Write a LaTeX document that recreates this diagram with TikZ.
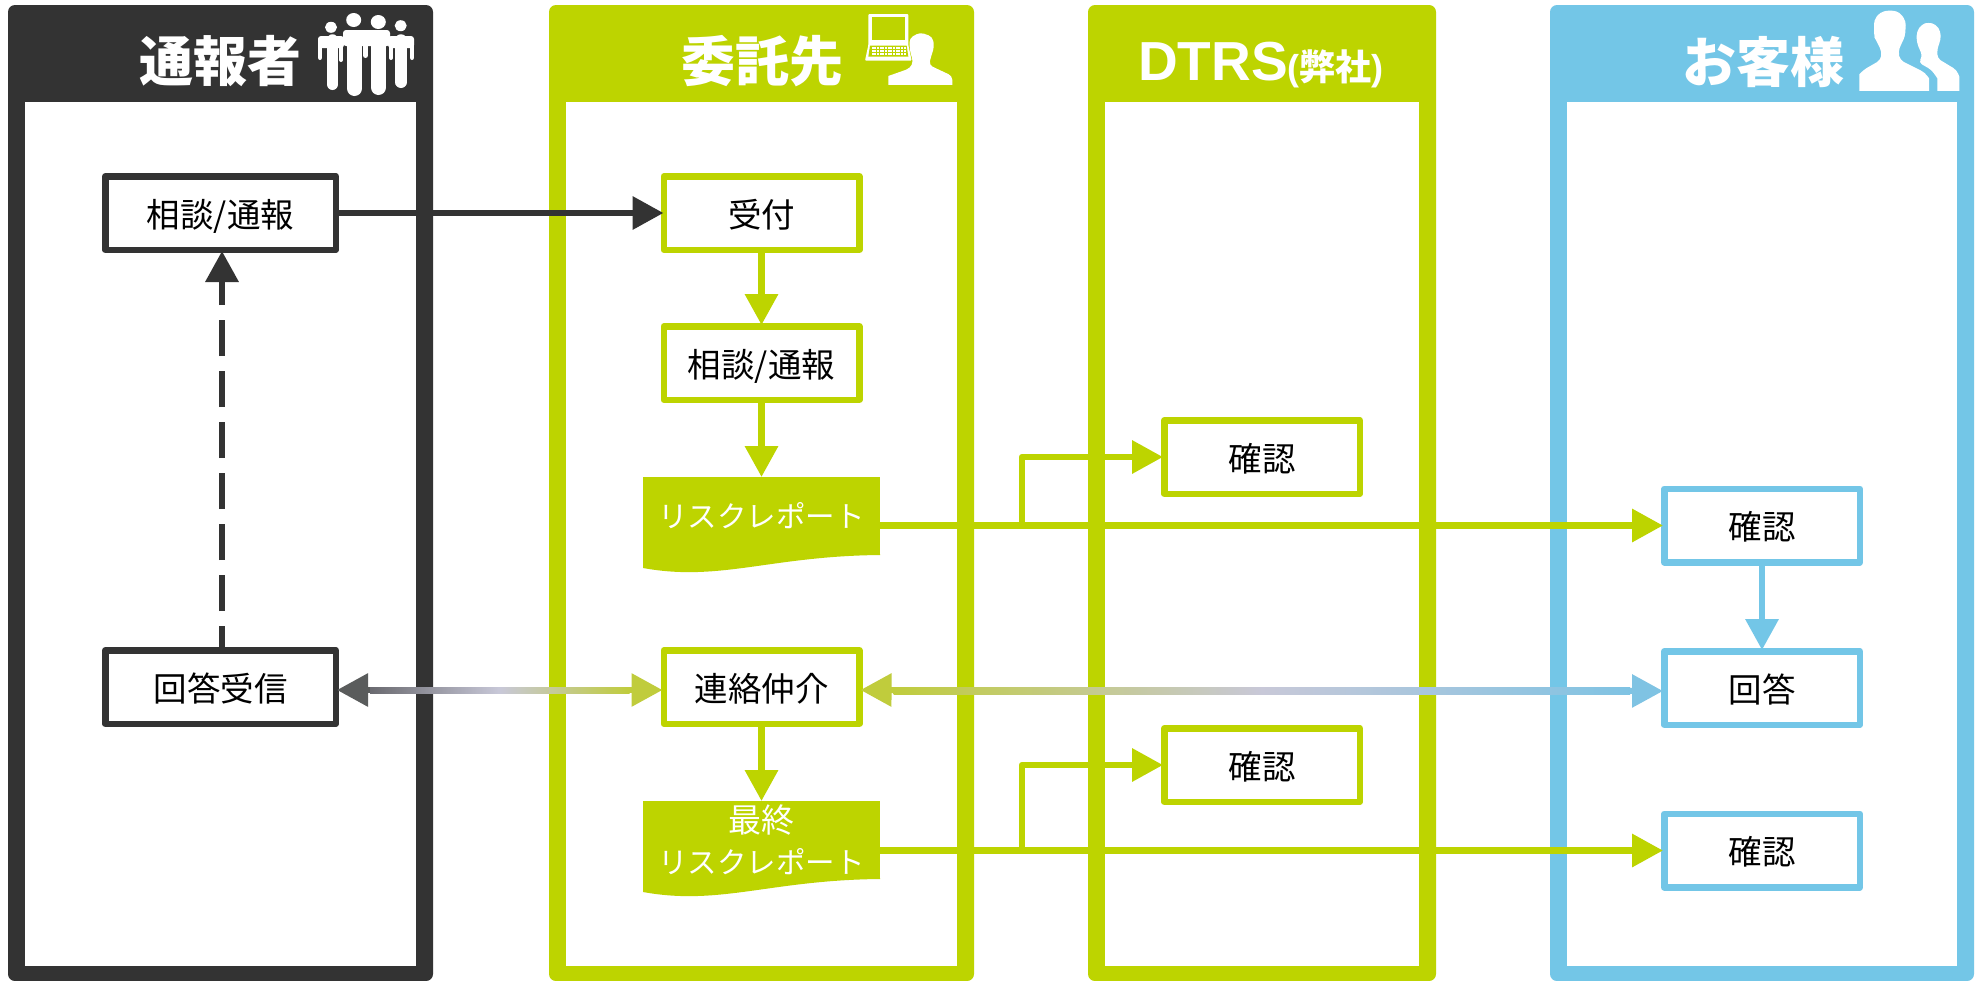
\documentclass[tikz,border=0pt]{standalone}
\usepackage{fontspec}
\setmainfont{Noto Sans CJK JP}
\newfontfamily\latinfont{Liberation Sans}
\usepackage{tikz}
\usetikzlibrary{arrows.meta}
\usetikzlibrary{calc}
\usetikzlibrary{positioning}

\definecolor{inkblack}{HTML}{333333}
\definecolor{leafgreen}{HTML}{BDD400}
\definecolor{skyblue}{HTML}{73C6E7}
\definecolor{fadeink}{HTML}{6A6A70}
\definecolor{fadetip}{HTML}{5A5C5C}
\definecolor{fadelilac}{HTML}{C8C8D8}
\definecolor{fadeolive}{HTML}{C0CC3C}
\definecolor{fadesky}{HTML}{7FC3E3}

\tikzset{
    flowbox/.style={draw=#1,fill=white,line width=6.5pt,line join=round,minimum width=195.5pt,minimum height=73.5pt,text height=30.5pt,text depth=2.5pt,font=\fontsize{33.5}{40}\selectfont},
    reportbox/.style={fill=leafgreen,text=white,minimum width=237pt,minimum height=78pt,inner sep=0pt,outer sep=0pt,align=center,font=\fontsize{29.5}{41}\selectfont},
    lanehead/.style={text=white,inner sep=0pt,font=\fontsize{54}{60}\selectfont\bfseries},
    flowline/.style={draw=#1,line width=6.5pt,line join=round,shorten >=-2pt,-{Triangle[length=31pt,width=32pt]}},
}

\newcommand{\docwave}[1]{\fill[leafgreen] ($(#1.south west)+(0,-1)$) -- ++(0,14) .. controls +(77,14) and +(-110,1) .. (#1.south east) -- ++(0,-1) -- cycle;}

\begin{document}
\begin{tikzpicture}[x=1pt,y=-1pt]
    \useasboundingbox (0,0) rectangle (1980,980);
    \fill[white] (0,0) rectangle (1980,980);

    \foreach \xa/\xb/\xc/\xd/\lanecol in {8/433/25/416/inkblack,549/974/566/957/leafgreen,1088/1436/1105/1419/leafgreen,1550/1974/1567/1957/skyblue}{
        \fill[\lanecol,rounded corners=7pt] (\xa,5) rectangle (\xb,981);
        \fill[white] (\xc,102) rectangle (\xd,966);
    }

    \node [lanehead] (reporterhead) at (220.5,61){通報者};
    \node [lanehead] (contractorhead) at (762,61){委託先};
    \node [lanehead] (dtrshead) at (1261,65){{\latinfont\fontsize{55}{60}\selectfont DTRS}{\fontsize{36}{40}\selectfont{\latinfont(}弊社{\latinfont)}}};
    \node [lanehead] (customerhead) at (1763,62){お客様};

    \begin{scope}[white]
        \foreach \xc/\yc/\rx/\ry in {331/27.3/6/5.5,353.7/20/7.5/7,378.3/22/7.5/7,400.7/25.7/6/5.5}{
            \fill (\xc,\yc) ellipse [x radius=\rx pt,y radius=\ry pt];
        }
        \fill[rounded corners=3pt] (318,36) rectangle (344,48);
        \fill[rounded corners=3pt] (343,30) rectangle (390,46);
        \fill[rounded corners=3pt] (388,36) rectangle (414,48);
        \foreach \xc/\wd/\yend in {320/4.5/60,332.5/11.5/90,341/4/62,354.5/15/96,365.5/5/58,378.5/15/95,391/4/60,401/11.5/88,412/4.5/60}{
            \draw[line width=\wd pt,line cap=round] (\xc,40) -- (\xc,\yend-\wd/2);
        }
    \end{scope}

    \begin{scope}[shift={(855,5)},x=0.3333pt,y=-0.3333pt]
        \fill[white,rounded corners=1pt] (40,27) -- (160,27) -- (160,120) -- (170,167) -- (30,167) -- (40,120) -- cycle;
        \fill[leafgreen] (50,37) rectangle (150,105);
        \fill[leafgreen] (45,122) -- (155,122) -- (160,155) -- (40,155) -- cycle;
        \foreach \row in {0,1,2}{
            \foreach \key in {0,...,12}{
                \fill[white] (50+\key*8,125+\row*9) rectangle +(6,6);
            }
        }
        \fill[white] (100,240) -- (100,213) [rounded corners=4pt] -- (165,190) -- (175,170) -- (165,140) -- (163,100) -- (195,82) -- (232,95) -- (238,125) -- (228,155) -- (222,180) -- (292,213) [sharp corners] -- (292,240) -- cycle;
    \end{scope}

    \begin{scope}[shift={(1850,5)},x=0.3333pt,y=-0.3333pt]
        \fill[white] (28,258) -- (28,208) [rounded corners=4pt] -- (40,195) -- (92,165) -- (95,140) -- (78,105) -- (72,95) -- (72,45) -- (90,22) -- (120,15) -- (150,22) -- (168,50) -- (165,95) -- (150,125) -- (145,140) -- (150,165) -- (225,203) [sharp corners] -- (237,220) -- (237,258) -- cycle;
        \fill[white] (262,258) -- (262,220) [rounded corners=4pt] -- (245,195) -- (205,172) -- (218,155) -- (200,112) -- (200,80) -- (215,58) -- (235,52) -- (258,58) -- (272,80) -- (272,105) -- (262,130) -- (262,160) -- (320,195) [sharp corners] -- (328,215) -- (328,258) -- cycle;
    \end{scope}

    \node [flowbox=inkblack,minimum width=230.5pt] (report) at (220.5,213){相談/通報};
    \node [flowbox=inkblack,minimum width=230.5pt] (reply) at (220.5,687){回答受信};

    \node [flowbox=leafgreen] (reception) at (761.5,213){受付};
    \node [flowbox=leafgreen,below=70pt of reception] (consult){相談/通報};
    \node [reportbox,below=74pt of consult] (draft){リスクレポート};
    \node [flowbox=leafgreen,below=92pt of draft] (relay){連絡仲介};
    \node [reportbox,below=74pt of relay] (final){{\fontsize{33}{41}\selectfont 最終}\\リスクレポート};
    \docwave{draft}
    \docwave{final}

    \node [flowbox=leafgreen] (dtrscheck) at (1262,457){確認};
    \node [flowbox=leafgreen,below=228pt of dtrscheck] (dtrsfinal){確認};

    \node [flowbox=skyblue] (custcheck) at (1762,525.5){確認};
    \node [flowbox=skyblue,below=82.5pt of custcheck] (answer){回答};
    \node [flowbox=skyblue,below=82.5pt of answer] (custfinal){確認};

    \draw[flowline=inkblack,shorten >=-3pt] (report.east) -- (reception.west);
    \draw[flowline=inkblack,dash pattern=on 21pt off 15pt on 36pt off 15pt on 36pt off 15pt on 36pt off 15pt on 36pt off 15pt on 36pt off 15pt on 36pt off 15pt on 36pt off 15pt] ([xshift=1.5pt]reply.north) -- ([xshift=1.5pt]report.south);
    \draw[flowline=leafgreen] (reception.south) -- (consult.north);
    \draw[flowline=leafgreen,shorten >=0pt] (consult.south) -- (draft.north);
    \draw[flowline=leafgreen,shorten >=0pt] (relay.south) -- (final.north);
    \draw[flowline=skyblue] (custcheck.south) -- (answer.north);

    \coordinate (draftout) at (draft.east |- custcheck.west);
    \coordinate (finalout) at (final.east |- custfinal.west);
    \coordinate (draftbranch) at ($(draftout)+(142,0)$);
    \coordinate (finalbranch) at ($(finalout)+(142,0)$);
    \draw[flowline=leafgreen] (draftout) -- (custcheck.west);
    \draw[flowline=leafgreen] (finalout) -- (custfinal.west);
    \draw[flowline=leafgreen] (draftbranch) |- (dtrscheck.west);
    \draw[flowline=leafgreen] (finalbranch) |- (dtrsfinal.west);

    \coordinate (replyport) at ($(reply.east)+(0,3)$);
    \coordinate (relayleft) at ($(relay.west)+(0,3)$);
    \coordinate (relayright) at ($(relay.east)+(0,3)$);
    \coordinate (answerport) at ($(answer.west)+(0,3)$);
    \coordinate (replymid) at ($(replyport)!0.5!(relayleft)$);
    \coordinate (answermid) at ($(relayright)!0.5!(answerport)$);
    \draw[flowline=fadetip,line width=6pt] (replymid) -- (replyport);
    \draw[flowline=fadeolive,line width=6pt] (replymid) -- (relayleft);
    \draw[flowline=fadeolive,line width=6pt] (answermid) -- (relayright);
    \draw[flowline=fadesky,line width=6pt] (answermid) -- (answerport);
    \shade[left color=fadeink,right color=fadeolive,middle color=fadelilac] ($(replyport)+(31,-3)$) rectangle ($(relayleft)+(-31,3)$);
    \shade[left color=fadeolive,right color=fadesky,middle color=fadelilac] ($(relayright)+(31,-3)$) rectangle ($(answerport)+(-31,3)$);
\end{tikzpicture}
\end{document}
